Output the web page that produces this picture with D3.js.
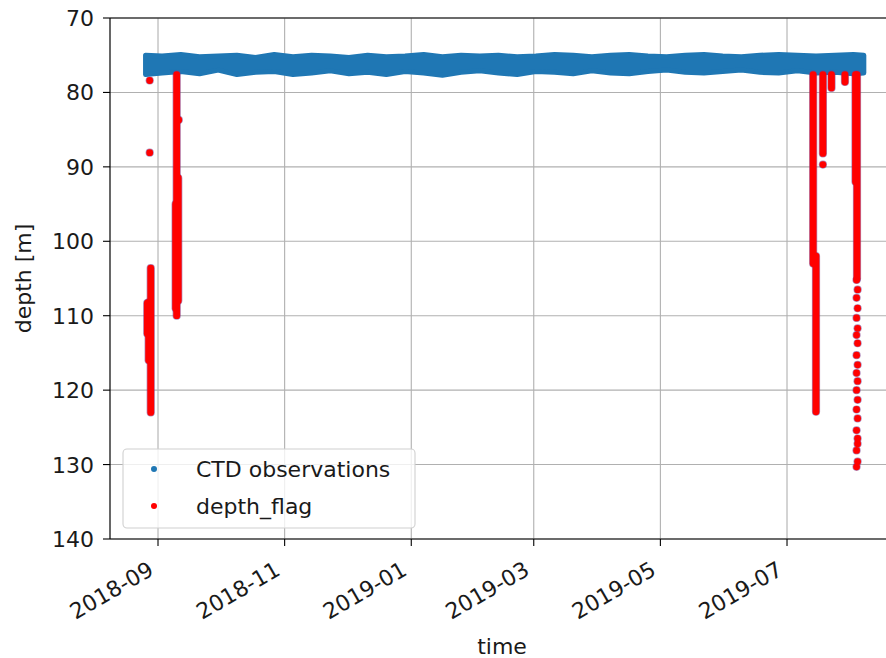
<!DOCTYPE html>
<html>
<head>
<meta charset="utf-8">
<script src="https://cdn.jsdelivr.net/npm/d3@7"></script>
<style>
  body { margin: 0; background: #fff; }
  text { font-family: "DejaVu Sans", sans-serif; fill: #1a1a1a; }
</style>
</head>
<body>
<svg id="chart"></svg>
<script>
// CTD observations: upper / lower edge of the dense band (depth in m)
let bandDates = ["2018-08-26","2018-09-03","2018-09-12","2018-09-21","2018-09-30","2018-10-09","2018-10-18","2018-10-27","2018-11-05","2018-11-14","2018-11-23","2018-12-02","2018-12-11","2018-12-20","2018-12-29","2019-01-07","2019-01-16","2019-01-25","2019-02-03","2019-02-12","2019-02-21","2019-03-02","2019-03-11","2019-03-20","2019-03-29","2019-04-07","2019-04-16","2019-04-25","2019-05-04","2019-05-13","2019-05-22","2019-05-31","2019-06-09","2019-06-18","2019-06-27","2019-07-06","2019-07-15","2019-07-24","2019-08-02","2019-08-07"];
let bandTop = [75.0,75.1,74.9,75.2,75.1,75.0,75.3,74.9,75.2,75.0,75.1,75.3,75.0,75.2,75.1,74.9,75.2,75.0,75.1,75.0,75.2,75.1,74.9,75.0,75.2,75.0,74.9,75.1,75.2,75.0,74.9,75.1,75.2,75.0,74.9,75.0,75.1,75.0,74.9,75.0];
let bandBottom = [77.6,77.4,77.2,77.5,77.0,77.6,77.3,77.2,77.6,77.4,77.1,77.5,77.3,77.6,77.2,77.4,77.7,77.3,77.1,77.4,77.6,77.2,77.3,77.5,77.1,77.4,77.5,77.2,77.0,77.3,77.4,77.2,77.0,77.3,77.4,77.1,77.4,77.3,77.5,77.4];

// depth_flag: dense runs of flagged points (from depth .. to depth)
let runDates = ["2018-08-28T12:00","2018-08-27T12:00","2018-08-26T20:00","2018-09-10T00:00","2018-09-10T18:00","2018-09-09T12:00","2019-07-13T14:00","2019-07-14T23:00","2019-07-18T07:00","2019-07-22T10:00","2019-07-28T22:00","2019-08-03T17:00","2019-08-03T00:00"];
let runTop    = [103.6,108.2,108.3,77.6,91.5,95.0,77.6,102.0,77.6,77.6,77.6,77.6,77.6];
let runBottom = [123.0,116.0,112.4,110.0,108.0,109.0,103.0,122.9,88.2,79.4,78.6,105.0,92.0];

// depth_flag: single flagged points
let dotDates = ["2018-08-28T00:00","2018-08-28T00:00","2018-09-11T00:00","2019-07-18T07:00",
  "2019-08-03T12:00","2019-08-04T00:00","2019-08-03T12:00","2019-08-04T00:00","2019-08-03T12:00","2019-08-04T00:00",
  "2019-08-03T12:00","2019-08-04T00:00","2019-08-03T12:00","2019-08-04T00:00","2019-08-03T12:00","2019-08-04T00:00",
  "2019-08-03T12:00","2019-08-04T00:00","2019-08-03T12:00","2019-08-04T00:00","2019-08-03T12:00","2019-08-04T00:00",
  "2019-08-03T12:00","2019-08-04T00:00","2019-08-03T12:00","2019-08-04T00:00"];
let dotDepths = [78.4,88.1,83.7,89.7,
  105.2,106.5,107.6,109.0,110.3,111.7,
  112.6,113.7,115.3,116.6,117.7,118.8,
  120.0,121.3,122.6,123.8,125.4,126.5,
  128.1,129.6,130.3,127.2];

let yTicks = [70,80,90,100,110,120,130,140];
let xTicks = ["2018-09-01","2018-11-01","2019-01-01","2019-03-01","2019-05-01","2019-07-01"];
let legendLabels = ["CTD observations","depth_flag"];
let legendColors = ["#1f77b4","#ff0000"];

var svgWidth = 886, svgHeight = 658;
var mLeft = 110, mRight = 888, mTop = 18, mBottom = 539;

var parse = d3.isoParse;

var svg = d3.select("#chart")
  .attr("width", svgWidth)
  .attr("height", svgHeight);

var x = d3.scaleTime()
  .domain([parse("2018-08-08T21:00"), parse("2019-08-18T15:30")])
  .range([mLeft, mRight]);

var y = d3.scaleLinear()
  .domain([70, 140])
  .range([mTop, mBottom]);

// grid
svg.append("g").selectAll("line")
  .data(xTicks)
  .enter().append("line")
  .attr("x1", d => x(parse(d))).attr("x2", d => x(parse(d)))
  .attr("y1", mTop).attr("y2", mBottom)
  .attr("stroke", "#b0b0b0").attr("stroke-width", 1.1);

svg.append("g").selectAll("line")
  .data(yTicks)
  .enter().append("line")
  .attr("x1", mLeft).attr("x2", mRight)
  .attr("y1", d => y(d)).attr("y2", d => y(d))
  .attr("stroke", "#b0b0b0").attr("stroke-width", 1.1);

// CTD band
var band = bandDates.map((d, i) => ({t: parse(d), a: bandTop[i], b: bandBottom[i]}));
var area = d3.area()
  .x(d => x(d.t))
  .y0(d => y(d.b))
  .y1(d => y(d.a))
  .curve(d3.curveLinear);
svg.append("path")
  .datum(band)
  .attr("d", area)
  .attr("fill", "#1f77b4")
  .attr("stroke", "#1f77b4")
  .attr("stroke-width", 5)
  .attr("stroke-linejoin", "round");

// flagged runs: blue observations underneath, red on top
var runs = runDates.map((d, i) => ({t: parse(d), a: runTop[i], b: runBottom[i]}));
var dots = dotDates.map((d, i) => ({t: parse(d), v: dotDepths[i]}));

svg.append("g").selectAll("line")
  .data(runs)
  .enter().append("line")
  .attr("x1", d => x(d.t)).attr("x2", d => x(d.t))
  .attr("y1", d => y(d.a)).attr("y2", d => y(d.b))
  .attr("stroke", "#7a3a8a").attr("stroke-opacity", 0.6)
  .attr("stroke-width", 8.2).attr("stroke-linecap", "round");
svg.append("g").selectAll("circle")
  .data(dots)
  .enter().append("circle")
  .attr("cx", d => x(d.t)).attr("cy", d => y(d.v))
  .attr("r", 4.1)
  .attr("fill", "#7a3a8a").attr("fill-opacity", 0.6);

svg.append("g").selectAll("line")
  .data(runs)
  .enter().append("line")
  .attr("x1", d => x(d.t)).attr("x2", d => x(d.t))
  .attr("y1", d => y(d.a)).attr("y2", d => y(d.b))
  .attr("stroke", "#ff0000")
  .attr("stroke-width", 6.8).attr("stroke-linecap", "round");
svg.append("g").selectAll("circle")
  .data(dots)
  .enter().append("circle")
  .attr("cx", d => x(d.t)).attr("cy", d => y(d.v))
  .attr("r", 3.4)
  .attr("fill", "#ff0000");

// spines
svg.append("line").attr("x1", mLeft).attr("x2", mLeft).attr("y1", mTop).attr("y2", mBottom)
  .attr("stroke", "#000").attr("stroke-width", 1.2);
svg.append("line").attr("x1", mLeft).attr("x2", mRight).attr("y1", mBottom).attr("y2", mBottom)
  .attr("stroke", "#000").attr("stroke-width", 1.2);
svg.append("line").attr("x1", mLeft).attr("x2", mRight).attr("y1", mTop).attr("y2", mTop)
  .attr("stroke", "#000").attr("stroke-width", 1.2);

// y ticks
var yt = svg.append("g").selectAll("g")
  .data(yTicks)
  .enter().append("g");
yt.append("line")
  .attr("x1", mLeft - 7).attr("x2", mLeft)
  .attr("y1", d => y(d)).attr("y2", d => y(d))
  .attr("stroke", "#000").attr("stroke-width", 1.1);
yt.append("text")
  .attr("x", mLeft - 16).attr("y", d => y(d) + 8)
  .attr("text-anchor", "end")
  .attr("font-size", 22)
  .text(d => d);

// x ticks
var fmt = d3.timeFormat("%Y-%m");
var xt = svg.append("g").selectAll("g")
  .data(xTicks)
  .enter().append("g");
xt.append("line")
  .attr("x1", d => x(parse(d))).attr("x2", d => x(parse(d)))
  .attr("y1", mBottom).attr("y2", mBottom + 7)
  .attr("stroke", "#000").attr("stroke-width", 1.1);
xt.append("text")
  .attr("transform", d => "translate(" + (x(parse(d)) - 3) + "," + (mBottom + 35) + ") rotate(-30)")
  .attr("text-anchor", "end")
  .attr("font-size", 22)
  .text(d => fmt(parse(d)));

// axis labels
svg.append("text")
  .attr("x", (mLeft + mRight) / 2 + 3).attr("y", 654)
  .attr("text-anchor", "middle")
  .attr("font-size", 22)
  .text("time");
svg.append("text")
  .attr("transform", "translate(31," + ((mTop + mBottom) / 2) + ") rotate(-90)")
  .attr("text-anchor", "middle")
  .attr("font-size", 22)
  .text("depth [m]");

// legend
var lg = svg.append("g");
lg.append("rect")
  .attr("x", 123).attr("y", 449)
  .attr("width", 292).attr("height", 79)
  .attr("rx", 4)
  .attr("fill", "#fff").attr("fill-opacity", 0.8)
  .attr("stroke", "#d0d0d0").attr("stroke-width", 1.1);
lg.selectAll("circle")
  .data(legendLabels)
  .enter().append("circle")
  .attr("cx", 154).attr("cy", (d, i) => 469 + i * 37)
  .attr("r", 3)
  .attr("fill", (d, i) => legendColors[i]);
lg.selectAll("text")
  .data(legendLabels)
  .enter().append("text")
  .attr("x", 196).attr("y", (d, i) => 477 + i * 37)
  .attr("font-size", 22)
  .text(d => d);
</script>
</body>
</html>
